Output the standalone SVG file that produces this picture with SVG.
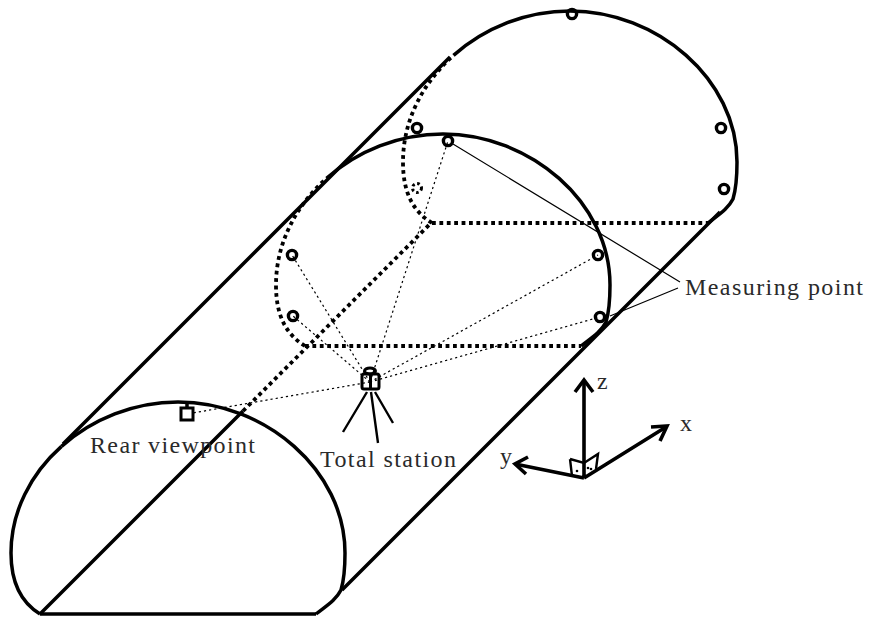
<svg xmlns="http://www.w3.org/2000/svg" width="869" height="618" viewBox="0 0 869 618">
<defs>
<style>
.s{fill:none;stroke:#000;stroke-width:3.5}
.d{fill:none;stroke:#000;stroke-width:3.8;stroke-dasharray:3.8 3.6}
.t{fill:none;stroke:#000;stroke-width:1.2;stroke-dasharray:2.2 3}
.l{fill:none;stroke:#000;stroke-width:1.2}
.a{fill:none;stroke:#000;stroke-width:3.6}
.g{fill:none;stroke:#000;stroke-width:2.4}
.b{fill:none;stroke:#000;stroke-width:3}
.p{fill:none;stroke:#000;stroke-width:3.4}
text{font-family:"Liberation Serif","DejaVu Serif",serif;font-size:24px;fill:#2a2a2a}
</style>
<path id="leftArc" d="M40 614C22 603 11 585 11 553C11 511.500 30.750 473.750 61.500 446.400"/>
<path id="rightArc" d="M61.500 446.400C92.250 419 134 402 178 402C265 402 345 470 345 553C345 568 344 580 341 590C336 600 326 606 316 614"/>
</defs>
<g id="connectors">
<path class="t" d="M370 382L292 255M370 382L293 316M370 382L448 141M370 382L598 255M370 382L600 317M370 382L187 414"/>
<path class="l" d="M453 144L680 282M610 316L678 288"/>
<path class="s" d="M63 444L450 57M342 590L720 212M40 614L243 411"/>
<path class="d" d="M243 411L432 222"/>
</g>
<g id="tunnel-front">
<use href="#leftArc" class="s"/><use href="#rightArc" class="s"/>
<path class="s" d="M40 614H316"/>
</g>
<g id="tunnel-middle" transform="translate(265 -268)">
<use href="#leftArc" class="d"/><use href="#rightArc" class="s"/>
<path class="d" d="M40 614H316"/>
</g>
<g id="tunnel-back" transform="translate(392 -391)">
<use href="#leftArc" class="d"/><use href="#rightArc" class="s"/>
<path class="d" d="M40 614H316"/>
</g>
<g id="measuring-points">
<circle class="p" cx="572" cy="14" r="4.600"/>
<circle class="p" cx="417" cy="128" r="4.600"/>
<circle class="p" cx="448" cy="141" r="4.600"/>
<circle class="p" cx="721" cy="128" r="4.600"/>
<circle class="p" cx="724" cy="189" r="4.600"/>
<circle class="p" cx="292" cy="255" r="4.600"/>
<circle class="p" cx="293" cy="316" r="4.600"/>
<circle class="p" cx="598" cy="255" r="4.600"/>
<circle class="p" cx="600" cy="317" r="4.600"/>
<circle cx="417" cy="188" r="4.500" fill="none" stroke="#000" stroke-width="3" stroke-dasharray="2.600 2.600"/>
</g>
<g id="rear-viewpoint">
<path class="s" d="M187 402V408"/>
<rect x="181" y="408" width="12" height="12" fill="#fff" stroke="#000" stroke-width="3"/>
<text x="90" y="453" textLength="165">Rear viewpoint</text>
</g>
<g id="total-station">
<path class="g" d="M367 392L343 432M371 392L378 443M375 392L393 423"/>
<rect x="362" y="374" width="17" height="15" rx="2" class="b"/>
<path class="b" d="M370.500 374V390"/>
<ellipse cx="370" cy="371" rx="5.500" ry="3" class="b"/>
<text x="320" y="467" textLength="136">Total station</text>
</g>
<g id="measuring-label">
<text x="685" y="295" textLength="178">Measuring point</text>
</g>
<g id="axes">
<path class="a" d="M584 478V381M584 478L666 427M584 478L515 464"/>
<path class="a" d="M575 392L584 380L593 392M651 427L667 426L660 441M528 457L515 464L526 474"/>
<path class="g" d="M570 459L572 476M570 459L584 463L598 454L596 469"/>
<circle cx="577" cy="471" r="1.300"/><circle cx="588" cy="468" r="1.300"/><circle cx="591" cy="469" r="1.300"/>
<text x="597" y="389">z</text>
<text x="680" y="431">x</text>
<text x="500" y="464">y</text>
</g>
</svg>
